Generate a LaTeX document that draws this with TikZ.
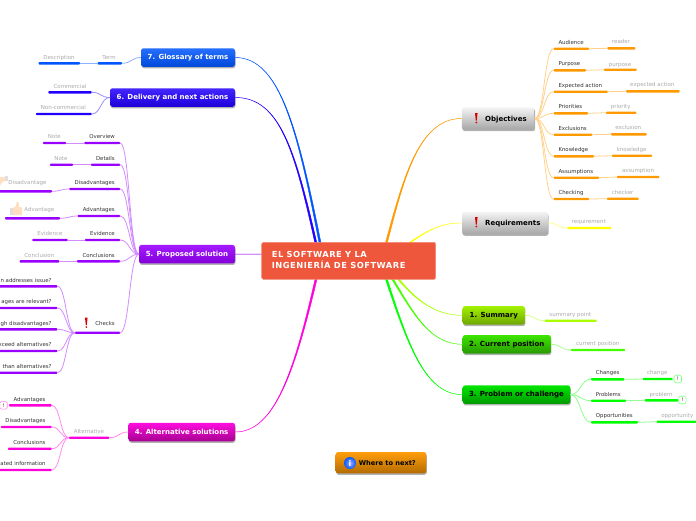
\documentclass[tikz,border=0pt]{standalone}
\usepackage{fontspec}
\setmainfont{DejaVu Sans}
\usetikzlibrary{calc}
\definecolor{cGloss}{HTML}{0055FF}
\definecolor{cDeliv}{HTML}{2200FF}
\definecolor{cProp}{HTML}{9900FF}
\definecolor{cAlt}{HTML}{FF00DD}
\definecolor{cObj}{HTML}{FF9900}
\definecolor{cReq}{HTML}{FFFF00}
\definecolor{cSum}{HTML}{AAFF00}
\definecolor{cCur}{HTML}{44FF00}
\definecolor{cProb}{HTML}{00FF00}
\definecolor{cRoot}{HTML}{EE573C}
\definecolor{cDark}{HTML}{333333}
\definecolor{cGray}{HTML}{AAAAAA}
\tikzset{
  barbox/.style={inner sep=0pt,minimum height=2.4pt,rounded corners=.8pt,draw=none},
  darkE/.style={text=cDark,anchor=mid east,inner sep=0pt,font=\fontsize{5.4}{6}\selectfont},
  darkW/.style={text=cDark,anchor=mid west,inner sep=0pt,font=\fontsize{5.4}{6}\selectfont},
  grayC/.style={text=cGray,anchor=mid,inner sep=0pt,font=\fontsize{5.5}{6}\selectfont},
  topic/.style={rounded corners=2.5pt,inner sep=0pt,minimum height=18.5pt,
    font=\fontsize{7}{8}\bfseries\selectfont,
    preaction={draw=none,fill=black!30,rounded corners=2.5pt,transform canvas={shift={(.5pt,-1.5pt)}}}},
  lightT/.style={topic,text=white},
  darkT/.style={topic,text=black},
  notebox/.style={rounded corners=1.5pt,minimum size=7.5pt,inner sep=0pt,line width=.6pt,fill=white,text=cDark,font=\fontsize{5}{6}\selectfont},
  link/.style={line width=.8pt,line cap=round}
}
% bar with its label: name, x1, x2, ybar, colour, label style, lx, ly, text
\newcommand{\lf}[9]{%
  \node[barbox,fill=#5,minimum width={(#3-#2)*1pt}] (#1) at ({(#2+#3)/2},#4) {};
  \node[#6] (#1-t) at (#7,#8) {#9};}
% S-shaped link between two named points
\newcommand{\cn}[3]{%
  \draw[link,#3!45] let \p1=(#1),\p2=(#2),\n1={.5*(\x1+\x2)} in (#1) .. controls (\n1,\y1) and (\n1,\y2) .. (#2);}
% tapered branch from the root, start is a named coordinate
\newcommand{\brn}[5]{%
  \fill[#1,draw=#1,line width=.45pt,line join=round] let \p1=(#2) in (\x1-1pt,\y1) .. controls ($(#3)+(-.5,0)$) and (#4) .. (#5) .. controls (#4) and ($(#3)+(.5,0)$) .. (\x1+1pt,\y1) -- cycle;}
% exclamation mark icon
\newcommand{\excl}[2]{%
  \begin{scope}[shift={(#1,#2)}]
    \fill[red!85!black] (-1.3,-5.5) -- (1.3,-5.5) -- (.5,2) -- (-.5,2) -- cycle;
    \fill[red!85!black] (0,4) circle (.95);
  \end{scope}}
\begin{document}
\begin{tikzpicture}[x=1pt,y=-1pt]
\path[use as bounding box,clip] (0,0) rectangle (696,520);
\fill[white] (0,0) rectangle (696,520);

% named start points on the root
\coordinate (rObj) at (385,248);
\coordinate (rReq) at (405,246);
\coordinate (rSum) at (395,275);
\coordinate (rCur) at (390,275);
\coordinate (rPrb) at (385,275);
\coordinate (rGlo) at (321,248);
\coordinate (rDel) at (317,248);
\coordinate (rAlt) at (317,275);
\coordinate (rPro) at (265,254);

% topics
\node[lightT,top color=cGloss!85!white,bottom color=cGloss!85!black,minimum width=94pt] (glo) at (188,57.5) {7. Glossary of terms};
\node[lightT,top color=cDeliv!85!white,bottom color=cDeliv!85!black,minimum width=125pt] (del) at (172.5,97.5) {6. Delivery and next actions};
\node[lightT,top color=cProp!90!white,bottom color=cProp!85!black,minimum width=96pt] (pro) at (187,254.2) {5. Proposed solution};
\node[lightT,top color=cAlt!95!white,bottom color=cAlt!65!black,minimum width=106.7pt] (alt) at (181.7,432) {4. Alternative solutions};
\node[topic,top color=black!4,bottom color=black!35,minimum width=72.7pt,minimum height=22.4pt] (obj) at (498.3,118.5) {};
\node[topic,top color=black!4,bottom color=black!35,minimum width=86pt,minimum height=22.6pt] (req) at (505,223) {};
\node[inner sep=0pt,anchor=mid west,text=black,font=\fontsize{7}{8}\bfseries\selectfont] (obj-t) at (485,118.5) {Objectives};
\node[inner sep=0pt,anchor=mid west,text=black,font=\fontsize{7}{8}\bfseries\selectfont] (req-t) at (485,222.5) {Requirements};
\excl{476.3}{118.5}
\excl{476.3}{222.5}
\node[darkT,top color=cSum!95!black,bottom color=cSum!65!black,minimum width=62.3pt] (sum) at (493.8,315.3) {1. Summary};
\node[darkT,top color=cCur!90!black,bottom color=cCur!60!black,minimum width=88.3pt] (cur) at (506.8,344.3) {2. Current position};
\node[darkT,top color=cProb!90!black,bottom color=cProb!60!black,minimum width=107.6pt] (prb) at (516.5,394.6) {3. Problem or challenge};

% branches from the root
\brn{cObj}{rObj}{402,185}{417,118}{obj.west}
\brn{cReq}{rReq}{425,232}{440,222.5}{req.west}
\brn{cSum}{rSum}{415,300}{435,315.3}{sum.west}
\brn{cCur}{rCur}{412,310}{428,344.3}{cur.west}
\brn{cProb}{rPrb}{408,345}{425,394.6}{prb.west}
\brn{cGloss}{rGlo}{298,130}{280,57.5}{glo.east}
\brn{cDeliv}{rDel}{295,150}{280,97.5}{del.east}
\brn{cProp}{rPro}{255,254.2}{245,254.2}{pro.east}
\brn{cAlt}{rAlt}{295,370}{275,432}{alt.east}

% root
\node[rounded corners=1.5pt,fill=cRoot,draw=cRoot!70!white,line width=.5pt,minimum width=174pt,minimum height=37pt,inner sep=0pt] (root) at (348.7,260.8) {};
\node[text=white,anchor=north west,inner sep=0pt,align=left,font=\fontsize{8.3}{10.7}\bfseries\addfontfeature{LetterSpace=6}\selectfont] (root-t) at (271.7,251.5) {EL SOFTWARE Y LA\\INGENIERÍA DE SOFTWARE};

% where to next
\node[darkT,top color=cObj!95!white,bottom color=cObj!70!black,minimum width=90.6pt,minimum height=21.3pt] (next) at (381,462.7) {};
\node[inner sep=0pt,anchor=mid west,text=black,font=\fontsize{6.6}{8}\bfseries\selectfont] (next-t) at (358.7,463) {Where to next?};
\node[circle,inner sep=0pt,minimum size=12pt,inner color=blue!35!white,outer color=blue!65!cyan,text=white,font=\fontsize{8}{8}\bfseries\selectfont] (info) at (350,463) {i};

% glossary
\lf{term}{97.7}{122}{63.3}{cGloss}{grayC}{109}{57}{Term}
\lf{desc}{38.5}{80}{63.3}{cGloss}{grayC}{59}{57}{Description}
\cn{glo.west}{term.east}{cGloss}
\cn{term.west}{desc.east}{cGloss}

% delivery
\lf{comm}{48.3}{91.7}{92.3}{cDeliv}{grayC}{70}{86}{Commercial}
\lf{ncom}{36}{91.7}{114}{cDeliv}{grayC}{63.3}{107}{Non-commercial}
\cn{del.west}{comm.east}{cDeliv}
\cn{del.west}{ncom.east}{cDeliv}

% proposed solution
\lf{over}{84.3}{120}{143}{cProp}{darkE}{115}{136}{Overview}
\lf{onote}{43}{66}{143}{cProp}{grayC}{54.3}{136}{Note}
\lf{deta}{91}{120}{164.7}{cProp}{darkE}{115}{158}{Details}
\lf{dnote}{50}{73}{164.7}{cProp}{grayC}{61}{158}{Note}
\lf{disa}{69.3}{120}{189}{cProp}{darkE}{115}{182}{Disadvantages}
\lf{disb}{-6}{52}{191.3}{cProp}{grayC}{27.5}{182}{Disadvantage}
\lf{adva}{77.7}{120}{216}{cProp}{darkE}{115}{209}{Advantages}
\lf{advb}{5}{60}{218.3}{cProp}{grayC}{39.3}{209}{Advantage}
\lf{evid}{85}{120}{240}{cProp}{darkE}{115}{233}{Evidence}
\lf{evib}{32.3}{67.7}{240}{cProp}{grayC}{50}{233}{Evidence}
\lf{conc}{77}{120}{261.3}{cProp}{darkE}{115}{255}{Conclusions}
\lf{conb}{19.7}{59.3}{261.3}{cProp}{grayC}{39.3}{255}{Conclusion}
\lf{chec}{75}{120}{332.7}{cProp}{darkE}{115}{323}{Checks}
\excl{86.3}{323}
\lf{cka}{-8}{57.3}{286.3}{cProp}{darkE}{51.7}{280}{n addresses issue?}
\lf{ckb}{-8}{57.3}{308}{cProp}{darkE}{51.7}{301}{ages are relevant?}
\lf{ckc}{-8}{57.3}{329.3}{cProp}{darkE}{51.7}{323}{gh disadvantages?}
\lf{ckd}{-8}{57.3}{351}{cProp}{darkE}{51.7}{343.7}{xceed alternatives?}
\lf{cke}{-8}{57.3}{372.7}{cProp}{darkE}{51.7}{365.7}{than alternatives?}
\foreach \k in {over,deta,disa,adva,evid,conc,chec}{\cn{pro.west}{\k.east}{cProp}}
\cn{over.west}{onote.east}{cProp}
\cn{deta.west}{dnote.east}{cProp}
\cn{disa.west}{disb.east}{cProp}
\cn{adva.west}{advb.east}{cProp}
\cn{evid.west}{evib.east}{cProp}
\cn{conc.west}{conb.east}{cProp}
\foreach \k in {cka,ckb,ckc,ckd,cke}{\cn{chec.west}{\k.east}{cProp}}

% thumb icons
\begin{scope}[shift={(16,209)}]
  \fill[black!12] (-6,-1) rectangle (-2.5,6);
  \fill[orange!25!white] (-3,-1) -- (0,-3) -- (0.5,-7) -- (2.5,-7) -- (3,-2) -- (6,-1.5) -- (6,6) -- (-3,6) -- cycle;
\end{scope}
\begin{scope}[shift={(2,180)}]
  \fill[black!12] (3,-4) rectangle (6,1);
  \fill[orange!25!white] (3,-3) -- (-3,-3) -- (-4,3) -- (-1,5) -- (0,2) -- (3,1) -- cycle;
\end{scope}

% alternative solutions
\lf{altn}{69}{109.3}{437.7}{cAlt}{grayC}{89}{431}{Alternative}
\lf{aad}{9}{51.7}{405.3}{cAlt}{darkE}{45.7}{399}{Advantages}
\lf{adi}{1}{51.7}{427}{cAlt}{darkE}{45.7}{420}{Disadvantages}
\lf{aco}{8}{51.7}{448.7}{cAlt}{darkE}{45.7}{442}{Conclusions}
\lf{ari}{-8}{51.7}{470}{cAlt}{darkE}{45.7}{463}{ated information}
\cn{alt.west}{altn.east}{cAlt}
\foreach \k in {aad,adi,aco,ari}{\cn{altn.west}{\k.east}{cAlt}}
\node[notebox,draw=cAlt!50] (anote) at (3.5,405.3) {!};

% objectives
\lf{aud}{553.7}{589}{48.7}{cObj}{darkW}{558.3}{42}{Audience}
\lf{audb}{607.3}{635.3}{48.3}{cObj}{grayC}{621}{41}{reader}
\lf{pur}{553.7}{586}{70.3}{cObj}{darkW}{558.3}{63}{Purpose}
\lf{purb}{604}{636.7}{69.7}{cObj}{grayC}{620}{63.3}{purpose}
\lf{exa}{553.7}{607.7}{91.7}{cObj}{darkW}{558.3}{85}{Expected action}
\lf{exab}{626}{679.7}{91.3}{cObj}{grayC}{652.3}{84}{expected action}
\lf{pri}{553.7}{588}{113.3}{cObj}{darkW}{558.3}{106}{Priorities}
\lf{prib}{606}{636.3}{112.7}{cObj}{grayC}{620.7}{106}{priority}
\lf{exc}{553.7}{592.3}{134.7}{cObj}{darkW}{558.3}{128}{Exclusions}
\lf{excb}{611}{646.7}{134.3}{cObj}{grayC}{628.3}{127}{exclusion}
\lf{kno}{553.7}{594}{156.3}{cObj}{darkW}{558.3}{149}{Knowledge}
\lf{knob}{612}{652}{155.7}{cObj}{grayC}{631.7}{149}{knowledge}
\lf{ass}{553.7}{599}{177.7}{cObj}{darkW}{558.3}{171}{Assumptions}
\lf{assb}{617}{659.3}{177}{cObj}{grayC}{638}{170}{assumption}
\lf{chk}{553.7}{589}{199}{cObj}{darkW}{558.3}{192}{Checking}
\lf{chkb}{607}{638.7}{198.7}{cObj}{grayC}{622.7}{192}{checker}
\foreach \k in {aud,pur,exa,pri,exc,kno,ass,chk}{\cn{obj.east}{\k.west}{cObj}\cn{\k.east}{\k b.west}{cObj}}

% requirements, summary, current
\lf{rqb}{567.3}{611.3}{228}{cReq}{grayC}{588.7}{221}{requirement}
\cn{req.east}{rqb.west}{cReq}
\lf{smb}{544.7}{596.7}{320.7}{cSum}{grayC}{570.3}{314}{summary point}
\cn{sum.east}{smb.west}{cSum}
\lf{crb}{571}{625}{350}{cCur}{grayC}{597.7}{343}{current position}
\cn{cur.east}{crb.west}{cCur}

% problem
\lf{cha}{591}{624.3}{379.3}{cProb}{darkW}{595.7}{372}{Changes}
\lf{chab}{642.7}{672.7}{379}{cProb}{grayC}{657.3}{372}{change}
\lf{prm}{591}{626}{400.7}{cProb}{darkW}{595.7}{394}{Problems}
\lf{prmb}{644.7}{678.3}{400.3}{cProb}{grayC}{661}{393.3}{problem}
\lf{opp}{591}{638}{422.3}{cProb}{darkW}{595.7}{415}{Opportunities}
\lf{oppb}{656.7}{702}{421.7}{cProb}{grayC}{677.3}{415}{opportunity}
\foreach \k in {cha,prm,opp}{\cn{prb.east}{\k.west}{cProb}\cn{\k.east}{\k b.west}{cProb}}
\node[notebox,draw=cProb!50] (chn) at (677.7,379) {!};
\node[notebox,draw=cProb!50] (prn) at (682.3,400) {!};
\end{tikzpicture}
\end{document}
